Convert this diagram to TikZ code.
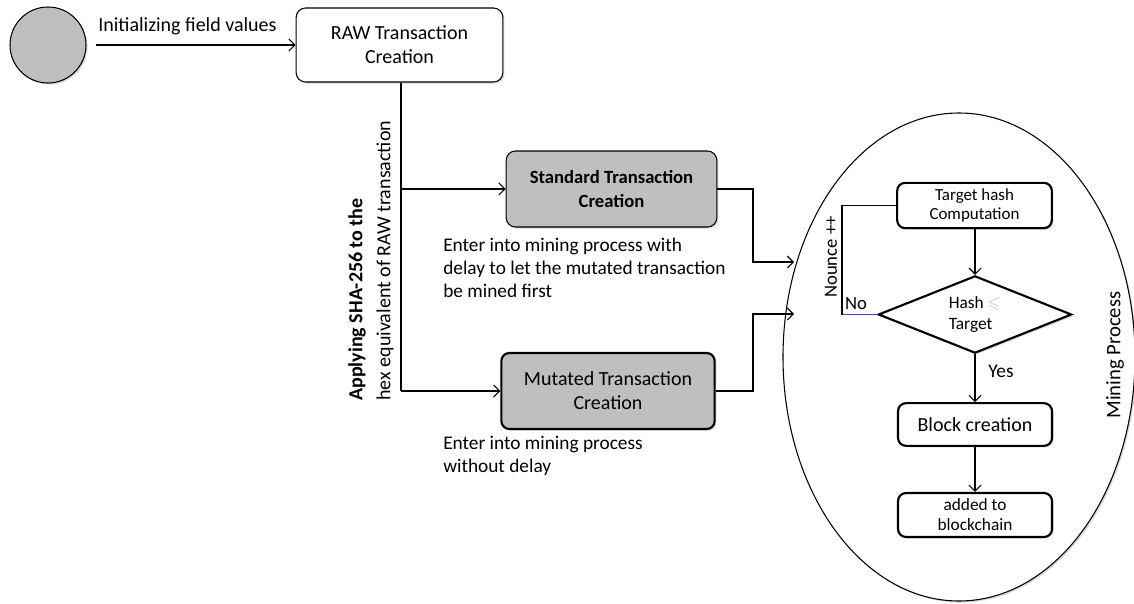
\documentclass[tikz,border=0pt]{standalone}
\usepackage{fontspec}
\setmainfont{Carlito}
\usepackage{amssymb}
\usetikzlibrary{arrows.meta,shapes.geometric,shadows}
\tikzset{
  conn/.style={line width=0.8pt,-{Straight Barb[length=4.5pt,width=9pt,line width=0.8pt]}},
  plain/.style={line width=0.8pt},
  shd/.style={drop shadow={opacity=0.25,shadow xshift=1.2pt,shadow yshift=-1.2pt,fill=black!60}},
  thinbox/.style={draw,rounded corners=7pt,line width=0.8pt,align=center,fill=white,shd,inner sep=2pt},
  thickbox/.style={draw,rounded corners=6pt,line width=1.6pt,align=center,fill=white,shd,inner sep=2pt},
  lbl/.style={inner sep=0pt,align=left},
}
\begin{document}
\begin{tikzpicture}[x=0.75pt,y=-0.75pt]
\useasboundingbox (0,0) rectangle (1134,603);
% start circle
\node[circle,draw,line width=0.8pt,fill=black!25,minimum size=57pt,inner sep=0pt,shd] (start) at (48,45) {};
\node[thinbox,minimum width=155pt,minimum height=55.5pt,font=\fontsize{15}{18}\selectfont] (raw) at (399.5,45) {RAW Transaction\\Creation};
\coordinate (startout) at (96,45);
\draw[conn] (startout) -- (raw.west);
\node[lbl,anchor=west,font=\fontsize{15}{18}\selectfont] (init) at (98,26) {Initializing field values};

% standard and mutated
\node[thinbox,fill=black!25,minimum width=158pt,minimum height=57pt,font=\bfseries\fontsize{14}{17.5}\selectfont] (std) at (611.5,189) {Standard Transaction\\Creation};
\node[thickbox,fill=black!25,minimum width=160pt,minimum height=57pt,font=\fontsize{15}{18}\selectfont] (mut) at (608,391) {Mutated Transaction\\Creation};

\coordinate (split) at (401,82);
\coordinate (b1) at (401,189);
\coordinate (b2) at (401,391);
\draw[plain] (raw.south -| split) -- (b2);
\draw[conn] (b1) -- (std.west);
\draw[conn] (b2) -- (mut.west);

\node[lbl,rotate=90,font=\fontsize{15}{21}\selectfont,anchor=west] (sha) at (371,401) {\textbf{Applying SHA-256 to the}\\hex equivalent of RAW transaction};

\node[lbl,anchor=west,font=\fontsize{14.5}{17}\selectfont] (n1) at (443,268) {Enter into mining process with\\delay to let the mutated transaction\\be mined first};
\node[lbl,anchor=west,font=\fontsize{14.5}{17}\selectfont] (n2) at (443,456) {Enter into mining process\\without delay};

% mining ellipse
\node[ellipse,draw,line width=0.8pt,minimum width=264pt,minimum height=366pt,inner sep=0pt,shd,fill=white] (mining) at (959,357) {};
\node[lbl,rotate=90,font=\fontsize{15.5}{18}\selectfont] (mplabel) at (1115,355) {Mining Process};

\coordinate (e1) at (794,262);
\coordinate (e2) at (794,314);
\draw[conn] (std.east) -- (753,189) |- (e1);
\draw[conn] (mut.east) -- (753,391) |- (e2);

% inner flow
\node[thickbox,minimum width=116pt,minimum height=34pt,font=\fontsize{12.7}{14.5}\selectfont] (target) at (974.5,205.5) {Target hash\\Computation};
\node[diamond,draw,line width=1.6pt,fill=white,minimum width=145pt,minimum height=58pt,inner sep=0pt,aspect=2.5,shd] (hash) at (975,314.5) {};
\node[lbl,font=\fontsize{13}{16}\selectfont] (hashtxt) at (hash.center) {Hash {\color{black!25}$\leqslant$}\\Target};
\node[thickbox,minimum width=115.5pt,minimum height=32pt,font=\fontsize{15}{18}\selectfont] (block) at (975,424.5) {Block creation};
\node[thickbox,minimum width=115.5pt,minimum height=33pt,font=\fontsize{13}{15}\selectfont] (added) at (975,515) {added to\\blockchain};

\draw[conn] (target.south -| hash.north) -- (hash.north);
\draw[conn] (hash.south) -- (block.north);
\draw[conn] (block.south) -- (added.north);

\coordinate (nocorner) at (842,314.5);
\draw[plain,color=blue!55!black!70] (hash.west) -- (nocorner);
\draw[plain] (nocorner) -- (842,205.5) -- (target.west);
\node[lbl,font=\fontsize{14}{16}\selectfont] (no) at (856,304) {No};
\node[lbl,rotate=90,font=\fontsize{14}{16}\selectfont] (nounce) at (831,257) {Nounce ++};
\node[lbl,font=\fontsize{14.5}{16}\selectfont] (yes) at (1001,371) {Yes};
\end{tikzpicture}
\end{document}
